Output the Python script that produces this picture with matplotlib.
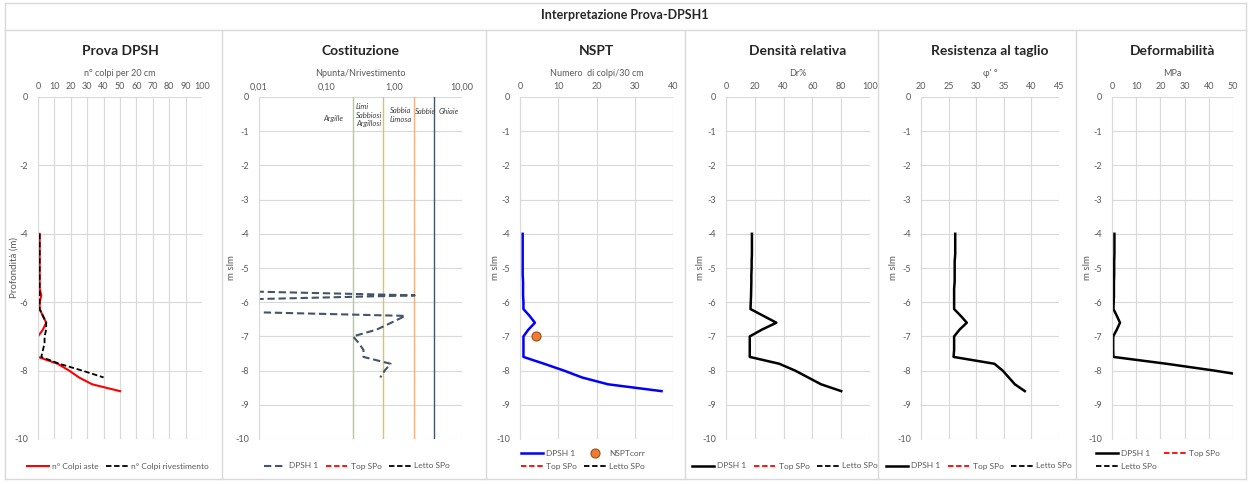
import numpy as np
import matplotlib.pyplot as plt
from matplotlib.lines import Line2D

plt.rcParams['font.family'] = ['Lato', 'DejaVu Sans']
plt.rcParams['axes.unicode_minus'] = False

W, H = 1250, 484

# readings every 20 cm (m slm)
depth = [-4.0, -4.2, -4.4, -4.6, -4.8, -5.0, -5.2, -5.4, -5.6, -5.8, -6.0, -6.2,
         -6.4, -6.6, -6.8, -7.0, -7.2, -7.4, -7.6, -7.8, -8.0, -8.2, -8.4, -8.6]
colpi_aste = [1, 1, 1, 1, 1, 1, 1, 1, 1, 2, 1, 1,
              3, 5, 3, 0, 0, 0, 0, 12, 19, 25, 33, 50]
depth_riv = [-4.0, -4.2, -4.4, -4.6, -4.8, -5.0, -5.2, -5.4, -5.6, -5.8, -6.0, -6.2,
             -6.4, -6.6, -6.8, -7.0, -7.2, -7.4, -7.6, -7.8, -8.0, -8.2]
colpi_riv = [1, 1, 1, 1, 1, 1, 1, 1, 1, 1, 1, 1,
             3, 5, 5, 4, 4, 3, 2, 13, 27, 40]
# Npunta/Nrivestimento (0 = no blows on the rods)
rapporto = [0, 0, 0, 0, 0, 0, 0, 0, 0, 2.0, 0, 0,
            1.45, 0.9, 0.55, 0.245, 0.3, 0.35, 0.35, 0.88, 0.72, 0.62]

nspt = [0.7, 0.7, 0.7, 0.7, 0.7, 0.7, 0.7, 0.8, 0.8, 0.8, 0.9, 0.9,
        2.5, 3.9, 2.2, 0.9, 0.9, 0.9, 0.9, 6.3, 11.5, 16.2, 23.0, 37.0]
nspt_corr_depth = [-7.0]
nspt_corr = [4.2]

dr = [18, 18, 18, 18, 17.8, 17.8, 17.6, 17.6, 17.5, 17.4, 17.2, 17,
      26, 35, 25, 16.5, 16.5, 16.5, 16.5, 37, 48, 57, 66, 80]
phi = [26.2, 26.2, 26.2, 26.2, 26.1, 26.1, 26.1, 26.1, 26.0, 26.0, 26.0, 26.0,
       27.2, 28.3, 27.0, 26.0, 26.0, 26.0, 25.9, 33.3, 34.8, 35.9, 37.0, 38.8]
mpa = [1.0, 1.0, 1.0, 1.0, 0.9, 0.9, 0.9, 0.8, 0.8, 0.8, 0.7, 0.6,
       2.0, 3.3, 2.0, 0.5, 0.5, 0.5, 0.6, 22.5, 42.3, 60, 75, 100]

# Top / Letto SPo levels (none for this test)
top_spo_x, top_spo_y = [], []
letto_spo_x, letto_spo_y = [], []

# class limits on the Npunta/Nrivestimento scale
soil_limits = [0.245, 0.68, 1.95, 3.85]
soil_colors = ['#a9d18e', '#e2c05a', '#f4b183', '#44546a']

GRID = '#d9d9d9'
TXT = '#595959'
DARK = '#262626'

fig = plt.figure(figsize=(W / 100, H / 100), dpi=100)


def px_axes(x0, x1, y0=97, y1=439):
    return fig.add_axes([x0 / W, 1 - y1 / H, (x1 - x0) / W, (y1 - y0) / H])


def fx(x):
    return x / W


def fy(y):
    return 1 - y / H


def style(ax, xlim, xticks, yticks, title, sub, ylab, ylab_x):
    ax.set_xlim(xlim)
    ax.set_ylim(-10, 0)
    ax.xaxis.tick_top()
    ax.set_xticks(xticks)
    ax.set_yticks(yticks)
    ax.grid(color=GRID, lw=0.8)
    ax.set_axisbelow(True)
    ax.tick_params(length=0, labelsize=6.5, labelcolor=TXT, pad=4)
    ax.tick_params(axis='y', pad=7)
    for s in ax.spines.values():
        s.set_visible(False)
    ax.spines['left'].set_visible(True)
    ax.spines['left'].set_color(GRID)
    pos = ax.get_position()
    cx = pos.x0 + pos.width / 2
    fig.text(cx, fy(51), title, ha='center', va='center', fontsize=10,
             fontweight='bold', color=DARK)
    fig.text(cx, fy(73), sub, ha='center', va='center', fontsize=6.5, color=TXT)
    fig.text(fx(ylab_x), fy(268), ylab, ha='center', va='center', rotation=90,
             fontsize=7, color=TXT)


def legend(handles, cx, cy, ncol):
    fig.legend(handles=handles, loc='center', bbox_to_anchor=(fx(cx), fy(cy)),
               ncol=ncol, frameon=False, fontsize=6, labelcolor=TXT,
               handlelength=2.6, columnspacing=0.9, handletextpad=0.4,
               borderaxespad=0, labelspacing=0.7)


# frame of the sheet
for x in [5, 222, 486, 685, 878, 1076, 1246]:
    fig.add_artist(Line2D([fx(x), fx(x)], [fy(30), fy(479)], color=GRID, lw=1))
for y in [3, 30, 479]:
    fig.add_artist(Line2D([fx(5), fx(1246)], [fy(y), fy(y)], color=GRID, lw=1))
fig.add_artist(Line2D([fx(5), fx(5)], [fy(3), fy(30)], color=GRID, lw=1))
fig.add_artist(Line2D([fx(1246), fx(1246)], [fy(3), fy(30)], color=GRID, lw=1))
fig.text(0.5, fy(15), 'Interpretazione Prova-DPSH1', ha='center', va='center',
         fontsize=9, fontweight='bold', color=DARK)

# Prova DPSH
ax1 = px_axes(38, 202)
h_aste, = ax1.plot(colpi_aste, depth, color='#ff0000', lw=1.5,
                   label='n° Colpi aste')
h_riv, = ax1.plot(colpi_riv, depth_riv, color='black', lw=1.3, ls=(0, (3, 1.5)),
                  label='n° Colpi rivestimento')
style(ax1, (0, 100), range(0, 101, 10), range(-10, 1, 2), 'Prova DPSH',
      'n° colpi per 20 cm', 'Profondità (m)', 14)
legend([h_aste, h_riv], 118, 466, 2)

# Costituzione
ax2 = px_axes(259, 462)
ax2.set_xscale('log')
for lim, c in zip(soil_limits, soil_colors):
    ax2.axvline(lim, color=c, lw=1)
rap_plot = np.maximum(np.array(rapporto), 1e-4)
h_dpsh2, = ax2.plot(rap_plot, depth_riv, color='#44546a', lw=1.5,
                    ls=(0, (3.5, 1.8)), label='DPSH 1')
h_top2, = ax2.plot(top_spo_x, top_spo_y, color='#ff0000', lw=1.3,
                   ls=(0, (3, 1.5)), label='Top SPo')
h_let2, = ax2.plot(letto_spo_x, letto_spo_y, color='black', lw=1.3,
                   ls=(0, (3, 1.5)), label='Letto SPo')
style(ax2, (0.01, 10), [0.01, 0.1, 1, 10], range(-10, 1), 'Costituzione',
      'Npunta/Nrivestimento', 'm slm', 232)
ax2.set_xticklabels(['0,01', '0,10', '1,00', '10,00'])
ax2.minorticks_off()
ax2.grid(False, axis='x')
ax2.axvline(10, color=GRID, lw=0.8)
for txt, x, y, ha in [('Argille', 333, 118, 'center'),
                      ('Limi\nSabbiosi\nArgillosi', 356, 115, 'left'),
                      ('Sabbia\nLimosa', 390, 115, 'left'),
                      ('Sabbie', 415, 111, 'left'),
                      ('Ghiaie', 439, 111, 'left')]:
    fig.text(fx(x), fy(y), txt, ha=ha, va='center', fontsize=5.5,
             style='italic', color='#404040', linespacing=1.2)
legend([h_dpsh2, h_top2, h_let2], 357, 466, 3)

# NSPT
ax3 = px_axes(520, 673)
h_nspt, = ax3.plot(nspt, depth, color='#0000ff', lw=1.8, label='DPSH 1')
h_corr, = ax3.plot(nspt_corr, nspt_corr_depth, ls='none', marker='o', ms=6.5,
                   mfc='#ed7d31', mec='#9c4d1a', mew=0.8, label='NSPTcorr')
h_top3, = ax3.plot(top_spo_x, top_spo_y, color='#ff0000', lw=1.3,
                   ls=(0, (3, 1.5)), label='Top SPo')
h_let3, = ax3.plot(letto_spo_x, letto_spo_y, color='black', lw=1.3,
                   ls=(0, (3, 1.5)), label='Letto SPo')
style(ax3, (0, 40), range(0, 41, 10), range(-10, 1), 'NSPT',
      'Numero  di colpi/30 cm', 'm slm', 495)
legend([h_nspt, h_top3, h_corr, h_let3], 583, 460, 2)

# Densità relativa, Resistenza al taglio, Deformabilità
panels = [
    (726, 870, dr, (0, 100), range(0, 101, 20), 'Densità relativa', 'Dr%', 700, 785, 466, 3),
    (921, 1059, phi, (20, 45), range(20, 46, 5), 'Resistenza al taglio', "φ' °", 894, 979, 466, 3),
    (1112, 1233, mpa, (0, 50), range(0, 51, 10), 'Deformabilità', 'MPa', 1087, 1158, 460, 2),
]
for x0, x1, vals, xlim, xticks, title, sub, ylx, lgx, lgy, ncol in panels:
    ax = px_axes(x0, x1)
    h_line, = ax.plot(vals, depth, color='black', lw=1.8, label='DPSH 1')
    h_top, = ax.plot(top_spo_x, top_spo_y, color='#ff0000', lw=1.3,
                     ls=(0, (3, 1.5)), label='Top SPo')
    h_let, = ax.plot(letto_spo_x, letto_spo_y, color='black', lw=1.3,
                     ls=(0, (3, 1.5)), label='Letto SPo')
    style(ax, xlim, xticks, range(-10, 1), title, sub, 'm slm', ylx)
    if ncol == 2:
        legend([h_line, h_let, h_top], lgx, lgy, ncol)
    else:
        legend([h_line, h_top, h_let], lgx, lgy, ncol)

fig.savefig('out.png', dpi=100)
